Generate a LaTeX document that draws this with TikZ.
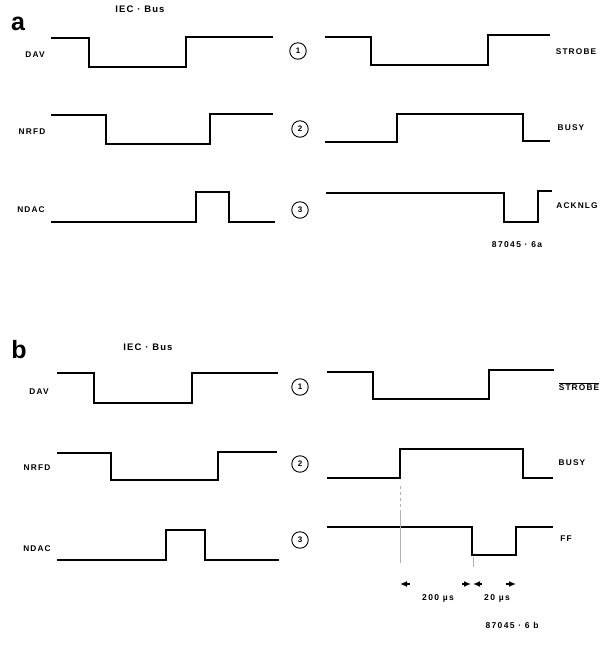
\documentclass[tikz,border=0pt]{standalone}
\usepackage{fontspec}
\setmainfont{Liberation Sans}
\usetikzlibrary{arrows.meta}
\tikzset{
  sig/.style={line width=1.3pt, line join=miter},
  lbl/.style={font=\fontsize{8.3}{9}\selectfont\bfseries\addfontfeature{LetterSpace=14}, inner sep=0pt},
  num/.style={circle, draw, line width=0.9pt, minimum size=16.5pt, inner sep=0pt, font=\fontsize{8}{8}\selectfont\bfseries},
  big/.style={font=\fontsize{25}{25}\selectfont\bfseries, inner sep=0pt},
  head/.style={font=\fontsize{9.5}{10}\selectfont\bfseries\addfontfeature{LetterSpace=12}, inner sep=0pt},
  guide/.style={line width=0.4pt, gray!60},
  dim/.style={line width=1.4pt, -{Latex[length=7pt,width=6pt]}},
  small/.style={font=\fontsize{8.5}{9}\selectfont\bfseries\addfontfeature{LetterSpace=16}, inner sep=0pt}
}
\begin{document}
\begin{tikzpicture}[x=1pt,y=-1pt]
\useasboundingbox (0,0) rectangle (600,650);
% ---------- panel a ----------
\node[big] (la) at (18,24) {a};
\node[head] (ha) at (140,9) {IEC · Bus};
\node[lbl] (dava) at (35,55) {DAV};
\node[lbl] (nrfda) at (32,132) {NRFD};
\node[lbl] (ndaca) at (31,210) {NDAC};
\node[num] (c1a) at (298,51) {1};
\node[num] (c2a) at (300,129) {2};
\node[num] (c3a) at (300,210) {3};
\node[lbl] (stra) at (576,52) {STROBE};
\node[lbl] (busya) at (571,128) {BUSY};
\node[lbl] (ackna) at (577,206) {ACKNLG};
\node[small] (refa) at (517,245) {87045 · 6a};
% signals a
\draw[sig] (51,38) -- (89,38) -- (89,67) -- (186,67) -- (186,37) -- (273,37);
\draw[sig] (51,115) -- (106,115) -- (106,144) -- (210,144) -- (210,114) -- (273,114);
\draw[sig] (51,222) -- (196,222) -- (196,192) -- (229,192) -- (229,222) -- (275,222);
\draw[sig] (325,37) -- (371,37) -- (371,65) -- (488,65) -- (488,35) -- (550,35);
\draw[sig] (325,142) -- (397,142) -- (397,114) -- (523,114) -- (523,141) -- (550,141);
\draw[sig] (326,193) -- (504,193) -- (504,222) -- (538,222) -- (538,191) -- (552,191);
% ---------- panel b ----------
\node[big] (lb) at (19,350) {b};
\node[head] (hb) at (148,347) {IEC · Bus};
\node[lbl] (davb) at (39,392) {DAV};
\node[lbl] (nrfdb) at (37,468) {NRFD};
\node[lbl] (ndacb) at (37,549) {NDAC};
\node[num] (c1b) at (300,387) {1};
\node[num] (c2b) at (300,464) {2};
\node[num] (c3b) at (300,540) {3};
\node[lbl] (strb) at (579,387) {$\overline{\mbox{STROBE}}$};
\node[lbl] (busyb) at (572,463) {BUSY};
\node[lbl] (ffb) at (566,539) {FF};
\node[small] (t200) at (438,598) {200 µs};
\node[small] (t20) at (497,598) {20 µs};
\node[small] (refb) at (512,625) {87045 · 6 b};
% signals b
\draw[sig] (57,373) -- (94,373) -- (94,403) -- (192,403) -- (192,373) -- (278,373);
\draw[sig] (57,453) -- (111,453) -- (111,480) -- (218,480) -- (218,452) -- (277,452);
\draw[sig] (57,560) -- (166,560) -- (166,530) -- (205,530) -- (205,560) -- (279,560);
\draw[sig] (327,372) -- (373,372) -- (373,399) -- (489,399) -- (489,370) -- (554,370);
\draw[sig] (327,478) -- (400,478) -- (400,449) -- (523,449) -- (523,478) -- (553,478);
\draw[sig] (327,527) -- (472,527) -- (472,555) -- (516,555) -- (516,527) -- (553,527);
% guides
\draw[guide, dashed] (400,486) -- (400,512);
\draw[guide] (400,512) -- (400,563);
\draw[guide] (473,557) -- (473,567);
% dimension arrowheads
\coordinate (d1) at (400,584);
\coordinate (d2) at (472,584);
\coordinate (d3) at (516,584);
\draw[dim] ([xshift=10pt]d1) -- (d1);
\draw[dim] ([xshift=-10pt]d2) -- ([xshift=-1pt]d2);
\draw[dim] ([xshift=10pt]d2) -- ([xshift=1pt]d2);
\draw[dim] ([xshift=-10pt]d3) -- (d3);
\end{tikzpicture}
\end{document}
